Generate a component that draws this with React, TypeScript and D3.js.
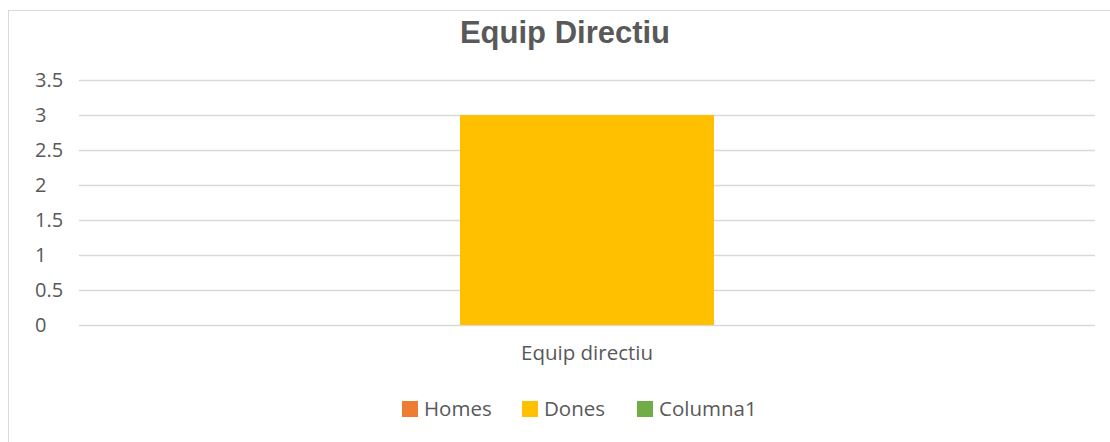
import React from "react";
import * as d3 from "d3";

const title = "Equip Directiu";
const categories = ["Equip directiu"];
const seriesNames = ["Homes", "Dones", "Columna1"];
const seriesColors = ["#ED7D31", "#FFC000", "#70AD47"];
const homesValues = [0];
const donesValues = [3];
const columna1Values = [0];
const yTickValues = [0, 0.5, 1, 1.5, 2, 2.5, 3, 3.5];

const W = 1110;
const H = 442;
const plot = { left: 79, right: 1095, top: 80, bottom: 325 };
const textColor = "#595959";
const gridColor = "#D9D9D9";
const font = "'Open Sans', 'Noto Sans', sans-serif";

export default function App() {
  const seriesValues = [homesValues, donesValues, columna1Values];
  const x = d3.scaleBand<string>().domain(categories).range([plot.left, plot.right]).padding(0);
  const xs = d3
    .scaleBand<string>()
    .domain(seriesNames)
    .range([0, x.bandwidth()])
    .paddingInner(0)
    .paddingOuter(0.5);
  const y = d3.scaleLinear().domain([0, 3.5]).range([plot.bottom, plot.top]);

  const legendX = [401, 521, 636];

  return (
    <svg
      width={W}
      height={H}
      style={{ position: "absolute", left: 0, top: 0, background: "#fff" }}
      xmlns="http://www.w3.org/2000/svg"
    >
      <rect x={0} y={0} width={W} height={H} fill="#fff" />
      <rect x={8.5} y={10.5} width={1300} height={600} fill="#fff" stroke={gridColor} strokeWidth={1} />
      <text
        x={565}
        y={43}
        textAnchor="middle"
        fontFamily="'Liberation Sans', Arial, sans-serif"
        fontWeight="bold"
        fontSize={31}
        fill={textColor}
      >
        {title}
      </text>
      {yTickValues.map((t) => (
        <g key={t}>
          <line
            x1={plot.left}
            x2={plot.right}
            y1={Math.round(y(t)) + 0.5}
            y2={Math.round(y(t)) + 0.5}
            stroke={gridColor}
            strokeWidth={1.5}
          />
          <text
            x={35}
            y={y(t)}
            dy="0.35em"
            fontFamily={font}
            fontSize={20}
            fill={textColor}
          >
            {d3.format("~g")(t)}
          </text>
        </g>
      ))}
      {categories.map((c, ci) => (
        <g key={c}>
          {seriesNames.map((s, si) => {
            const v = seriesValues[si][ci];
            if (!v) return null;
            return (
              <rect
                key={s}
                x={(x(c) ?? 0) + (xs(s) ?? 0)}
                y={y(v)}
                width={xs.bandwidth()}
                height={y(0) - y(v)}
                fill={seriesColors[si]}
              />
            );
          })}
          <text
            x={(x(c) ?? 0) + x.bandwidth() / 2}
            y={360}
            textAnchor="middle"
            fontFamily={font}
            fontSize={20.5}
            fill={textColor}
          >
            {c}
          </text>
        </g>
      ))}
      {seriesNames.map((s, i) => (
        <g key={s} transform={`translate(${legendX[i]},0)`}>
          <rect x={1} y={401} width={16} height={16} fill={seriesColors[i]} />
          <text x={23} y={416} fontFamily={font} fontSize={20.5} fill={textColor}>
            {s}
          </text>
        </g>
      ))}
    </svg>
  );
}
